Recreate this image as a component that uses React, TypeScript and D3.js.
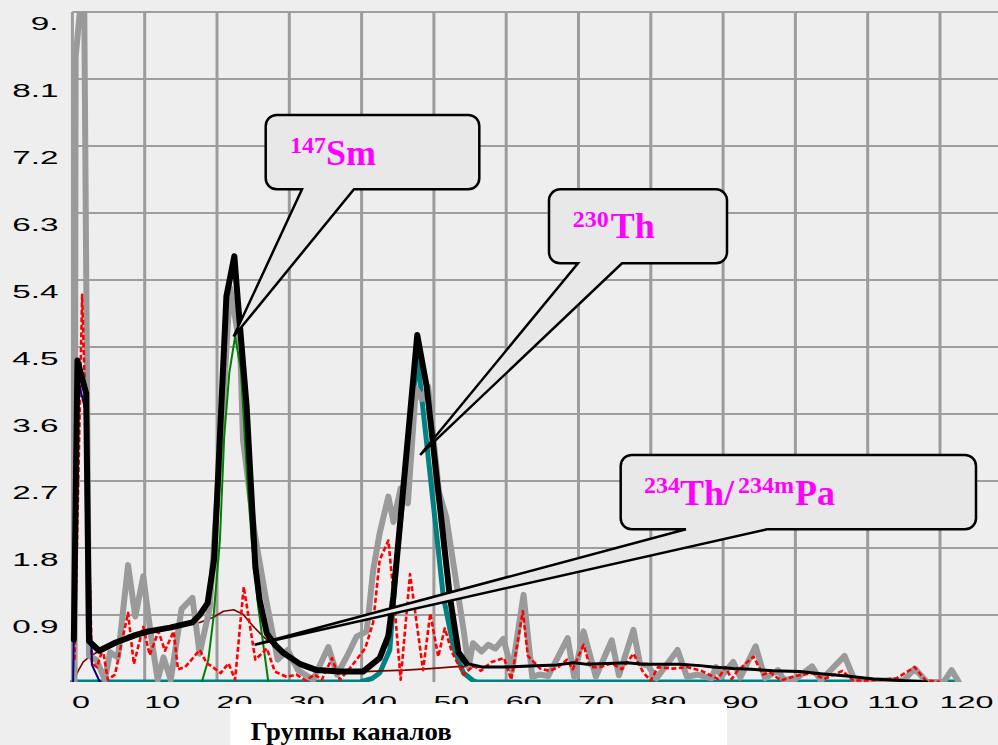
import React from 'react';
import * as d3 from 'd3';

const W = 998;
const H = 745;

// axis ticks
const xTicks = [0, 10, 20, 30, 40, 50, 60, 70, 80, 90, 100, 110, 120];
const xGrid = [0, 10, 20, 30, 40, 50, 60, 70, 80, 90, 100, 110, 120];
const yTicks = [0.9, 1.8, 2.7, 3.6, 4.5, 5.4, 6.3, 7.2, 8.1, 9.0];
const yTickLabels = ['0.9', '1.8', '2.7', '3.6', '4.5', '5.4', '6.3', '7.2', '8.1', '9.'];
const xAxisTitle = 'Группы каналов';

// measured spectrum (gray)
const measuredX = [0.3, 0.45, 1.6, 2.3, 3.3, 4.5, 5.2, 6.3, 7.7, 8.7, 9.8, 10.9, 11.8, 12.6, 13.6, 15.1, 16.6, 17.6, 19.0, 20.4, 21.8, 23.2, 23.6, 25.2, 26.8, 28.4, 29.8, 31.2, 33.3, 35.4, 36.6, 38.0, 39.3, 40.7, 41.6, 42.5, 43.7, 44.4, 45.4, 46.4, 47.5, 48.3, 49.2, 50.7, 51.7, 54.1, 54.8, 55.4, 56.6, 57.5, 58.5, 59.6, 60.8, 62.4, 63.6, 64.6, 65.8, 68.5, 69.4, 70.7, 72.4, 74.6, 75.6, 77.6, 78.5, 79.6, 80.8, 83.7, 85.0, 86.5, 88.4, 89.0, 89.8, 91.4, 92.4, 94.5, 95.8, 97.6, 98.4, 100.0, 102.3, 103.5, 106.8, 108.2, 115.0, 116.5, 118.2, 120.5, 121.6, 122.6];
const measuredY = [0, 8.4, 9.6, 0.35, 0.3, 0.03, 0.4, 0.33, 1.57, 0.88, 1.42, 0.6, 0.03, 0.33, 0.03, 0.98, 1.13, 0.38, 1.0, 3.0, 5.3, 4.5, 3.25, 2.0, 1.1, 0.3, 0.43, 0.16, 0.03, 0.47, 0.1, 0.35, 0.61, 0.68, 1.5, 2.0, 2.49, 2.15, 2.6, 2.4, 3.95, 3.8, 3.97, 2.55, 2.22, 0.7, 0.2, 0.52, 0.41, 0.5, 0.45, 0.58, 0.15, 1.17, 0.07, 0.1, 0.08, 0.59, 0.07, 0.68, 0.07, 0.56, 0.09, 0.7, 0.25, 0.22, 0.05, 0.43, 0.07, 0.1, 0.05, 0.2, 0.08, 0.27, 0.06, 0.48, 0.05, 0.16, 0.03, 0.04, 0.21, 0.02, 0.35, 0.02, 0.02, 0.18, 0.0, 0.0, 0.16, 0.0];

// residual / difference spectrum (red dashed)
const residX = [0.3, 1.35, 2.0, 2.7, 3.4, 4.2, 4.9, 5.9, 6.6, 7.7, 8.5, 9.8, 10.7, 11.9, 12.8, 14.0, 14.6, 15.6, 17.0, 17.6, 18.6, 19.3, 20.5, 21.6, 22.5, 23.7, 25.3, 26.9, 28.0, 29.6, 31.0, 32.3, 33.5, 34.5, 35.9, 37.0, 38.5, 40.5, 41.6, 42.5, 43.7, 44.4, 45.4, 46.7, 48.5, 49.5, 50.6, 51.5, 52.5, 54.1, 55.5, 56.5, 58.0, 59.7, 60.7, 62.3, 63.0, 64.7, 66.0, 67.2, 68.4, 69.2, 70.7, 71.6, 73.0, 74.6, 76.0, 77.6, 79.0, 80.0, 81.0, 83.0, 85.0, 87.0, 89.3, 90.3, 91.2, 92.0, 94.2, 95.5, 96.5, 98.0, 100.0, 102.3, 104.0, 106.5, 108.0, 110.0, 112.0, 114.0, 116.5, 118.0, 120.0];
const residY = [0.3, 5.2, 3.0, 0.25, 0.2, 0.45, 0.03, 0.1, 0.43, 0.93, 0.24, 0.74, 0.36, 0.68, 0.42, 0.68, 0.17, 0.2, 0.36, 0.43, 0.25, 0.21, 0.12, 0.25, 0.03, 1.28, 0.3, 0.45, 0.14, 0.07, 0.1, 0.02, 0.1, 0.03, 0.32, 0.03, 0.2, 0.45, 0.8, 1.64, 1.9, 1.2, 0.03, 1.45, 0.16, 0.92, 0.34, 0.72, 0.4, 0.1, 0.22, 0.15, 0.27, 0.32, 0.03, 0.95, 0.35, 0.18, 0.15, 0.2, 0.3, 0.17, 0.5, 0.2, 0.2, 0.25, 0.17, 0.38, 0.12, 0.02, 0.2, 0.18, 0.2, 0.15, 0.04, 0.2, 0.04, 0.15, 0.34, 0.1, 0.13, 0.02, 0.08, 0.12, 0.04, 0.15, 0.02, 0.02, 0.03, 0.05, 0.2, 0.02, 0.0];

// total fit (black)
const fitX = [0.2, 0.7, 1.9, 2.3, 3.7, 6.0, 8.7, 10.5, 13.5, 16.6, 17.6, 18.7, 19.6, 20.0, 21.3, 22.4, 22.9, 24.1, 24.8, 25.3, 25.9, 26.9, 28.0, 29.2, 31.5, 33.8, 37.0, 40.2, 41.6, 42.5, 43.7, 44.4, 47.7, 49.0, 52.2, 53.4, 54.5, 56.8, 59.5, 62.4, 65.0, 67.0, 69.3, 71.0, 74.0, 76.7, 79.0, 82.0, 84.0, 86.8, 88.6, 91.4, 94.0, 96.9, 100.6, 103.5, 107.1, 110.8, 114.5, 118.2];
const fitY = [0.57, 4.32, 3.88, 0.55, 0.42, 0.53, 0.63, 0.68, 0.73, 0.8, 0.9, 1.06, 1.65, 2.45, 5.18, 5.72, 5.1, 3.7, 2.45, 1.55, 1.1, 0.65, 0.5, 0.39, 0.24, 0.16, 0.14, 0.14, 0.25, 0.32, 0.62, 1.15, 4.66, 3.97, 1.15, 0.4, 0.25, 0.2, 0.2, 0.21, 0.22, 0.23, 0.26, 0.24, 0.25, 0.26, 0.24, 0.24, 0.24, 0.22, 0.2, 0.18, 0.17, 0.15, 0.14, 0.11, 0.08, 0.04, 0.02, 0.0];
const fitPeakEnd = 54.5;

// 147Sm component (green)
const smX = [17.9, 18.8, 19.5, 20.4, 21.0, 21.7, 22.5, 23.3, 24.2, 24.8, 25.7, 27.1];
const smY = [0, 0.3, 0.85, 1.9, 3.3, 4.15, 4.64, 4.2, 2.7, 1.9, 1.01, 0];

// 230Th component (teal)
const thX = [0, 39.8, 41.5, 42.5, 43.9, 44.8, 47.7, 48.8, 51.3, 52.7, 54.1, 55.4, 56.0, 122.6];
const thY = [0, 0, 0.05, 0.12, 0.43, 1.6, 4.37, 3.39, 1.15, 0.47, 0.12, 0.02, 0, 0];

// 234Th/234mPa continuum (maroon)
const paX = [0.1, 0.8, 1.5, 2.5, 3.4, 3.8, 6.0, 8.7, 10.5, 13.5, 16.0, 17.6, 19.5, 20.9, 22.3, 23.6, 25.0, 26.4, 28.0, 29.2, 31.5, 33.8, 37.0, 40.2, 43.0, 46.0, 49.5, 53.6, 56.8, 59.5, 62.4, 65.0, 67.0, 69.3, 71.0, 74.0, 76.7, 79.0, 82.0, 84.0, 86.8, 88.6, 91.4, 94.0, 96.9, 100.6, 103.5, 107.1, 110.8, 114.5, 118.2];
const paY = [0, 0.15, 0.27, 0.35, 0.4, 0.43, 0.53, 0.63, 0.68, 0.73, 0.77, 0.8, 0.87, 0.95, 0.97, 0.91, 0.75, 0.61, 0.48, 0.39, 0.24, 0.16, 0.14, 0.14, 0.15, 0.16, 0.18, 0.21, 0.2, 0.2, 0.21, 0.22, 0.23, 0.26, 0.24, 0.25, 0.26, 0.24, 0.24, 0.24, 0.22, 0.2, 0.18, 0.17, 0.15, 0.14, 0.11, 0.08, 0.04, 0.02, 0.0];

// first peak component (navy)
const p0X = [0.1, 0.7, 1.9, 2.7, 3.8];
const p0Y = [0, 4.1, 3.6, 0.23, 0];

const zip = (xs: number[], ys: number[]) => xs.map((v, i) => [v, ys[i]] as [number, number]);

export default function App() {
  const x = d3.scaleLinear().domain([0, 128]).range([72.4, 72.4 + 128 * 7.23]);
  const y = d3.scaleLinear().domain([0, 9]).range([682, 12]);
  const line = d3.line<[number, number]>().x(d => x(d[0])).y(d => y(d[1]));

  const fit = zip(fitX, fitY);
  const fitThick = fit.filter(d => d[0] <= fitPeakEnd);
  const fitThin = fit.filter(d => d[0] >= 53);

  const callout = (x0: number, y0: number, x1: number, y1: number, r: number, b1: number, b2: number, tx: number, ty: number) =>
    `M${x0 + r},${y0} H${x1 - r} A${r},${r} 0 0 1 ${x1},${y0 + r} V${y1 - r} A${r},${r} 0 0 1 ${x1 - r},${y1} H${b2} L${tx},${ty} L${b1},${y1} H${x0 + r} A${r},${r} 0 0 1 ${x0},${y1 - r} V${y0 + r} A${r},${r} 0 0 1 ${x0 + r},${y0} Z`;

  const serif = '"Liberation Serif", "Times New Roman", serif';
  const sans = '"Liberation Sans", Arial, sans-serif';
  const mag = '#ff00ff';

  return (
    <svg width={W} height={H} style={{ position: 'fixed', left: 0, top: 0, display: 'block' }}>
      <defs>
        <clipPath id="plot">
          <rect x={x(0) - 4} y={y(9)} width={W} height={y(0) - y(9)} />
        </clipPath>
      </defs>
      <rect x={0} y={0} width={W} height={H} fill="#eeeeee" />
      {/* grid */}
      {yTicks.map(t => (
        <line key={'h' + t} x1={x(0)} x2={W} y1={y(t)} y2={y(t)} stroke="#9e9e9e" strokeWidth={2} />
      ))}
      {xGrid.map(t => (
        <line key={'v' + t} x1={x(t)} x2={x(t)} y1={y(9)} y2={y(0)} stroke="#9c9c9c" strokeWidth={3} />
      ))}
      {/* series */}
      <g clipPath="url(#plot)" fill="none" strokeLinejoin="round" strokeLinecap="round">
        <path d={line(zip(thX, thY)) || ''} stroke="#008080" strokeWidth={5} />
        <path d={line(zip(paX, paY)) || ''} stroke="#800000" strokeWidth={1.6} />
        <path d={line(zip(measuredX, measuredY)) || ''} stroke="#9a9a9a" strokeWidth={6} />
        <path d={line(zip(smX, smY)) || ''} stroke="#008000" strokeWidth={2} />
        <path d={line(zip(residX, residY)) || ''} stroke="#ff0000" strokeWidth={2.6} strokeDasharray="5 2.5" strokeLinecap="butt" />
        <path d={line(zip(p0X, p0Y)) || ''} stroke="#000080" strokeWidth={2} />
        <path d={line(fitThin) || ''} stroke="#000000" strokeWidth={3} />
        <path d={line(fitThick) || ''} stroke="#000000" strokeWidth={6} />
      </g>
      {/* axis labels */}
      {yTicks.map((t, i) => (
        <text key={'yl' + t} transform={`translate(58.5,${y(t) + 17.5}) scale(1.8,1)`} textAnchor="end" fontFamily={sans} fontSize={18.5} fill="#000">
          {yTickLabels[i]}
        </text>
      ))}
      {xTicks.map(t => (
        <text key={'xl' + t} transform={`translate(${x(t) - 0.5},707.5) scale(1.9,1)`} fontFamily={sans} fontSize={17} fill="#000">
          {String(t)}
        </text>
      ))}
      {/* axis title box */}
      <rect x={230} y={704} width={497} height={41} fill="#ffffff" />
      <text x={250.7} y={740} fontFamily={serif} fontWeight="bold" fontSize={25} textLength={201} lengthAdjust="spacingAndGlyphs" fill="#000">
        {xAxisTitle}
      </text>
      {/* callouts */}
      <g fill="#e8e8e8" stroke="#000" strokeWidth={2.5} strokeLinejoin="miter">
        <path d={callout(265.7, 115, 479.3, 189.3, 11, 302, 354, x(22.3), y(4.64))} />
        <path d={callout(549, 189.3, 727, 263.3, 11, 578, 622, x(48.1), y(3.05))} />
        <path d={callout(620.7, 455, 976, 529.3, 11, 686, 767, x(25.2), y(0.5))} />
      </g>
      <g fontFamily={serif} fontWeight="bold" fill={mag}>
        <text x={290} y={153} fontSize={24}>147</text>
        <text x={326} y={165} fontSize={36}>Sm</text>
        <text x={572.7} y={226.7} fontSize={24}>230</text>
        <text x={610.7} y={238.3} fontSize={36}>Th</text>
        <text x={644} y={493.3} fontSize={24}>234</text>
        <text x={680} y={505} fontSize={36}>Th/</text>
        <text x={738} y={493.3} fontSize={24}>234m</text>
        <text x={795} y={505} fontSize={36}>Pa</text>
      </g>
    </svg>
  );
}
